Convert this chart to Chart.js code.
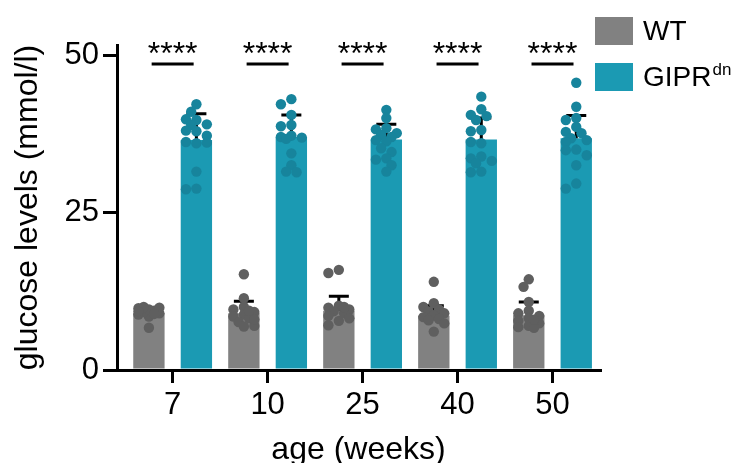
<!DOCTYPE html>
<html>
<head>
<meta charset="utf-8">
<script src="https://cdn.jsdelivr.net/npm/chart.js@4.4.1/dist/chart.umd.min.js"></script>
<style>
html, body { margin: 0; padding: 0; background: #fff; }
</style>
</head>
<body>
<canvas id="glucoseChart" width="743" height="463"></canvas>
<script>
// data
var ages = ["7", "10", "25", "40", "50"];
var seriesNames = ["WT", "GIPR"];
var wtMean = [9.0, 9.0, 9.4, 8.6, 8.7];
var wtSd = [0.8, 1.9, 2.3, 1.6, 2.1];
var gipMean = [36.5, 37.0, 36.6, 36.6, 36.8];
var gipSd = [4.2, 3.5, 2.4, 3.4, 3.6];
var wtPoints = [
    [6.7, 8.5, 8.8, 9.0, 9.2, 9.4, 9.6, 9.8, 9.9, 10.0, 9.3, 8.9],
    [15.2, 11.4, 10.0, 9.6, 9.2, 8.8, 8.5, 8.2, 7.6, 7.0, 6.9, 9.4, 8.0],
    [15.9, 15.4, 10.2, 9.9, 9.6, 9.3, 9.0, 8.6, 8.2, 7.8, 7.1, 10.0],
    [14.0, 10.6, 10.0, 9.6, 9.3, 9.0, 8.7, 8.4, 8.1, 7.9, 7.4, 6.1],
    [14.4, 13.2, 10.8, 9.4, 9.0, 8.6, 8.2, 7.8, 7.4, 7.0, 6.8, 6.7, 8.0]
];
var gipPoints = [
    [42.2, 41.0, 39.7, 39.8, 39.0, 38.9, 37.9, 38.0, 37.2, 36.0, 36.2, 36.1, 31.5, 28.8, 28.7],
    [43.0, 42.2, 40.5, 38.9, 38.7, 37.2, 37.0, 36.9, 36.7, 34.4, 32.5, 31.5, 31.4],
    [41.3, 40.0, 38.4, 38.2, 37.6, 37.3, 37.0, 36.5, 36.3, 35.2, 34.6, 33.6, 33.4, 32.5, 31.5],
    [43.4, 41.4, 40.5, 40.3, 39.7, 38.1, 37.9, 36.0, 36.2, 33.9, 33.6, 33.2, 32.8, 31.5, 31.4],
    [45.6, 41.8, 40.0, 39.7, 38.6, 37.8, 37.6, 36.8, 36.5, 36.2, 35.0, 34.9, 34.1, 32.5, 29.6, 28.8]
];
var yTicks = [0, 25, 50];
var sigLabels = ["****", "****", "****", "****", "****"];

var FONT = '"Liberation Sans", Arial, Helvetica, sans-serif';
Chart.defaults.font.family = FONT;
Chart.defaults.color = "#000";

var grey = "#818181", greyDot = "#5f5f5f";
var teal = "#1b9ab3", tealDot = "#17849c";

// simple deterministic swarm so the dots don't sit on top of each other
function swarmPoints(groups, shift) {
    var pts = [];
    var steps = [0, -0.055, 0.055, -0.11, 0.11];
    groups.forEach(function (vals, i) {
        var center = i + shift;
        var placed = [];
        vals.forEach(function (v) {
            var best = 0, bestGap = -1;
            for (var k = 0; k < steps.length; k++) {
                var gap = Infinity;
                placed.forEach(function (p) {
                    var dx = (p.x - center - steps[k]) * 95;
                    var dy = (p.y - v) * 6.3;
                    gap = Math.min(gap, Math.sqrt(dx * dx + dy * dy));
                });
                if (gap >= 8) { best = steps[k]; break; }
                if (gap > bestGap) { bestGap = gap; best = steps[k]; }
            }
            placed.push({ x: center + best, y: v });
        });
        pts = pts.concat(placed);
    });
    return pts;
}

function toXY(arr) {
    return arr.map(function (v, i) { return { x: i, y: v }; });
}

var errorBars = {
    id: "errorBars",
    afterDatasetDraw: function (chart, args) {
        var ds = chart.data.datasets[args.index];
        if (!ds.sd) return;
        var ctx = chart.ctx;
        var yScale = chart.scales.y;
        ctx.save();
        ctx.strokeStyle = "#000";
        ctx.lineWidth = 3;
        args.meta.data.forEach(function (bar, i) {
            var top = yScale.getPixelForValue(ds.data[i].y + ds.sd[i]);
            ctx.beginPath();
            ctx.moveTo(bar.x, bar.y);
            ctx.lineTo(bar.x, top);
            ctx.moveTo(bar.x - 10, top);
            ctx.lineTo(bar.x + 10, top);
            ctx.stroke();
        });
        ctx.restore();
    }
};

var extras = {
    id: "extras",
    afterDraw: function (chart) {
        var ctx = chart.ctx;
        var xScale = chart.scales.x;
        ctx.save();
        // significance
        ctx.fillStyle = "#000";
        ctx.strokeStyle = "#000";
        ctx.lineWidth = 3;
        ctx.textAlign = "center";
        ctx.textBaseline = "alphabetic";
        ctx.font = "32px " + FONT;
        sigLabels.forEach(function (s, i) {
            var x = xScale.getPixelForValue(i);
            ctx.fillText(s, x, 64);
            ctx.beginPath();
            ctx.moveTo(x - 21, 64);
            ctx.lineTo(x + 21, 64);
            ctx.stroke();
        });
        // legend
        ctx.textAlign = "left";
        ctx.textBaseline = "middle";
        ctx.fillStyle = grey;
        ctx.fillRect(595, 17, 38, 28);
        ctx.fillStyle = teal;
        ctx.fillRect(595, 63, 38, 28);
        ctx.fillStyle = "#000";
        ctx.font = "28px " + FONT;
        ctx.fillText(seriesNames[0], 643, 32);
        ctx.fillText(seriesNames[1], 643, 78);
        var w = ctx.measureText(seriesNames[1]).width;
        ctx.font = "17px " + FONT;
        ctx.fillText("dn", 643 + w + 1, 70);
        ctx.restore();
    }
};

var ctx = document.getElementById("glucoseChart");
var myChart = new Chart(ctx, {
    type: "bar",
    data: {
        datasets: [
            {
                label: "WT",
                data: toXY(wtMean),
                sd: wtSd,
                backgroundColor: grey,
                order: 2
            },
            {
                label: "GIPRdn",
                data: toXY(gipMean),
                sd: gipSd,
                backgroundColor: teal,
                order: 2
            },
            {
                type: "scatter",
                label: "WT points",
                data: swarmPoints(wtPoints, -0.25),
                backgroundColor: greyDot,
                borderWidth: 0,
                pointRadius: 5.2,
                order: 1
            },
            {
                type: "scatter",
                label: "GIPR points",
                data: swarmPoints(gipPoints, 0.25),
                backgroundColor: tealDot,
                borderWidth: 0,
                pointRadius: 5.2,
                order: 1
            }
        ]
    },
    options: {
        responsive: false,
        animation: false,
        categoryPercentage: 1.0,
        barPercentage: 0.66,
        layout: { padding: { top: 45, right: 143, left: 0, bottom: 0 } },
        plugins: {
            legend: { display: false },
            tooltip: { enabled: false }
        },
        scales: {
            x: {
                type: "linear",
                offset: false,
                min: -0.586,
                max: 4.5,
                afterBuildTicks: function (s) {
                    s.ticks = ages.map(function (a, i) { return { value: i }; });
                },
                afterFit: function (s) { s.height = 93; },
                ticks: {
                    callback: function (v) { return ages[v]; },
                    font: { size: 31 },
                    color: "#000",
                    padding: 4,
                    maxRotation: 0
                },
                grid: { offset: false, drawOnChartArea: false, tickLength: 13, color: "#000", lineWidth: 3 },
                border: { color: "#000", width: 3 },
                title: {
                    display: true,
                    text: "age (weeks)",
                    font: { size: 32 },
                    color: "#000",
                    padding: { top: 0, bottom: -6 }
                }
            },
            y: {
                min: 0,
                max: 51.6,
                afterBuildTicks: function (s) {
                    s.ticks = yTicks.map(function (v) { return { value: v }; });
                },
                afterFit: function (s) { s.width = 117; },
                ticks: { font: { size: 31 }, color: "#000", padding: 4 },
                grid: { drawOnChartArea: false, tickLength: 14, color: "#000", lineWidth: 3 },
                border: { color: "#000", width: 3 },
                title: {
                    display: true,
                    text: "glucose levels (mmol/l)",
                    font: { size: 32 },
                    color: "#000",
                    padding: { top: 9, bottom: 0 }
                }
            }
        }
    },
    plugins: [errorBars, extras]
});
</script>
</body>
</html>
